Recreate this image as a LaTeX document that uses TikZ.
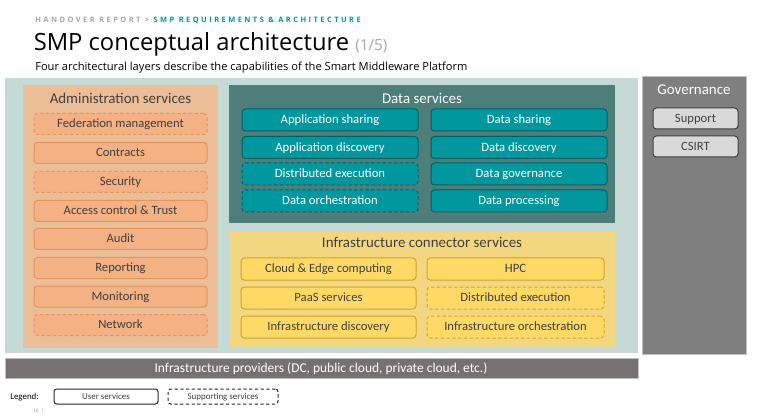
\documentclass[tikz,border=0pt]{standalone}
\usepackage{fontspec}
\setmainfont{Carlito}
\newfontfamily\osans{Open Sans}
\newfontfamily\osansb[LetterSpace=33]{Open Sans Bold}
\definecolor{bgc}{HTML}{C5D9D5}
\definecolor{admo}{HTML}{ECBE98}
\definecolor{admi}{HTML}{F4B183}
\definecolor{admb}{HTML}{E0955C}
\definecolor{dato}{HTML}{4E7E7A}
\definecolor{dati}{HTML}{00979E}
\definecolor{datb}{HTML}{005F63}
\definecolor{info}{HTML}{F3D680}
\definecolor{infi}{HTML}{FFD966}
\definecolor{infb}{HTML}{CFA52A}
\definecolor{govo}{HTML}{7F7F7F}
\definecolor{govi}{HTML}{D9D9D9}
\definecolor{provc}{HTML}{767171}
\definecolor{txt}{HTML}{404040}
\definecolor{hdr}{HTML}{A6A6A6}
\definecolor{teal}{HTML}{00979E}
\tikzset{
  ibox/.style={draw, rounded corners=2.5pt, line width=0.75pt, inner sep=0pt, text height=7.6pt, text depth=1.7pt, font=\fontsize{9.5}{10}\selectfont},
  admbox/.style={ibox, fill=admi, draw=admb, text=txt, minimum width=173*0.75pt, minimum height=21*0.75pt},
  datbox/.style={ibox, fill=dati, draw=datb, text=white, minimum width=176*0.75pt, minimum height=22*0.75pt},
  infbox/.style={ibox, fill=infi, draw=infb, text=txt, minimum width=176*0.75pt, minimum height=22*0.75pt},
  govbox/.style={ibox, fill=govi, draw=black!75, text=txt, minimum width=85*0.75pt, minimum height=21*0.75pt},
  supp/.style={dashed, dash pattern=on 2.5pt off 1.8pt},
  ptitle/.style={inner sep=0pt, text height=9.4pt, text depth=2pt, font=\fontsize{11.2}{12}\selectfont},
  legbox/.style={draw=black!85, rounded corners=2pt, line width=0.75pt, inner sep=0pt, text height=5.4pt, text depth=1.2pt, minimum width=104*0.75pt, minimum height=15*0.75pt, font=\fontsize{6.7}{7}\selectfont, text=txt},
}
\begin{document}
\begin{tikzpicture}[x=0.75pt, y=-0.75pt]
\useasboundingbox (0,0) rectangle (766,416);
% header
\node[anchor=base west, inner sep=0pt, font=\osansb\fontsize{5.6}{6}\selectfont] (hdr) at (35,22.5) {\textcolor{hdr}{HANDOVER REPORT >} \textcolor{teal}{SMP REQUIREMENTS \& ARCHITECTURE}};
\node[anchor=base west, inner sep=0pt, font=\osans\fontsize{17.8}{19}\selectfont] (title) at (33.5,51) {SMP conceptual architecture \textcolor{hdr}{\fontsize{11.5}{12}\selectfont(1/5)}};
\node[anchor=base west, inner sep=0pt, font=\osans\fontsize{8.35}{9}\selectfont] (sub) at (35,70.5) {Four architectural layers describe the capabilities of the Smart Middleware Platform};
% panels
\fill[bgc] (5,78) rectangle (638,353);
\fill[admo] (23,85) rectangle (218,348);
\fill[dato] (229,85) rectangle (615,223);
\fill[info] (229,231) rectangle (615,347);
\filldraw[fill=govo, draw=black!25, line width=0.75pt] (642,77) rectangle (746,354);
\filldraw[fill=provc, draw=black!25, line width=0.75pt] (5,358) rectangle (638,378);
% titles
\node[ptitle, text=txt] (admt) at (120.5,99) {Administration services};
\node[ptitle, text=white] (datt) at (422,99) {Data services};
\node[ptitle, text=txt] (inft) at (422,243) {Infrastructure connector services};
\node[ptitle, text=white] (govt) at (694,90) {Governance};
\node[ptitle, text=white, font=\fontsize{10.1}{11}\selectfont] (prov) at (321,368) {Infrastructure providers (DC, public cloud, private cloud, etc.)};
% admin
\node[admbox, supp] (a1) at (120.5,124) {Federation management};
\node[admbox] (a2) at (120.5,153) {Contracts};
\node[admbox, supp] (a3) at (120.5,182) {Security};
\node[admbox] (a4) at (120.5,211) {Access control \& Trust};
\node[admbox] (a5) at (120.5,239) {Audit};
\node[admbox] (a6) at (120.5,268) {Reporting};
\node[admbox] (a7) at (120.5,296.5) {Monitoring};
\node[admbox, supp] (a8) at (120.5,325) {Network};
% data
\node[datbox] (d1) at (330,120) {Application sharing};
\node[datbox] (d2) at (330,147.5) {Application discovery};
\node[datbox, supp] (d3) at (330,174) {Distributed execution};
\node[datbox, supp] (d4) at (330,201) {Data orchestration};
\node[datbox] (d5) at (519,120) {Data sharing};
\node[datbox] (d6) at (519,147.5) {Data discovery};
\node[datbox] (d7) at (519,174) {Data governance};
\node[datbox] (d8) at (519,201) {Data processing};
% infra
\node[infbox, minimum width=175*0.75pt] (i1) at (328.5,269) {Cloud \& Edge computing};
\node[infbox, minimum width=175*0.75pt] (i2) at (328.5,298) {PaaS services};
\node[infbox, minimum width=175*0.75pt] (i3) at (328.5,327) {Infrastructure discovery};
\node[infbox, minimum width=177*0.75pt] (i4) at (515.5,269) {HPC};
\node[infbox, minimum width=177*0.75pt, supp] (i5) at (515.5,298) {Distributed execution};
\node[infbox, minimum width=177*0.75pt, supp] (i6) at (515.5,327) {Infrastructure orchestration};
% governance
\node[govbox] (g1) at (695.5,118.5) {Support};
\node[govbox] (g2) at (695.5,146.5) {CSIRT};
% legend
\node[anchor=west, inner sep=0pt, text height=5.4pt, text depth=1.2pt, font=\fontsize{6.7}{7}\selectfont, text=black] (leg) at (10,396.5) {Legend:};
\node[legbox] (l1) at (106,396.5) {User services};
\node[legbox, supp, minimum width=110*0.75pt] (l2) at (223,396.5) {Supporting services};
\node[anchor=west, inner sep=0pt, font=\fontsize{4}{5}\selectfont, text=hdr] (pg) at (33,411.5) {16\ \ |};
\end{tikzpicture}
\end{document}
